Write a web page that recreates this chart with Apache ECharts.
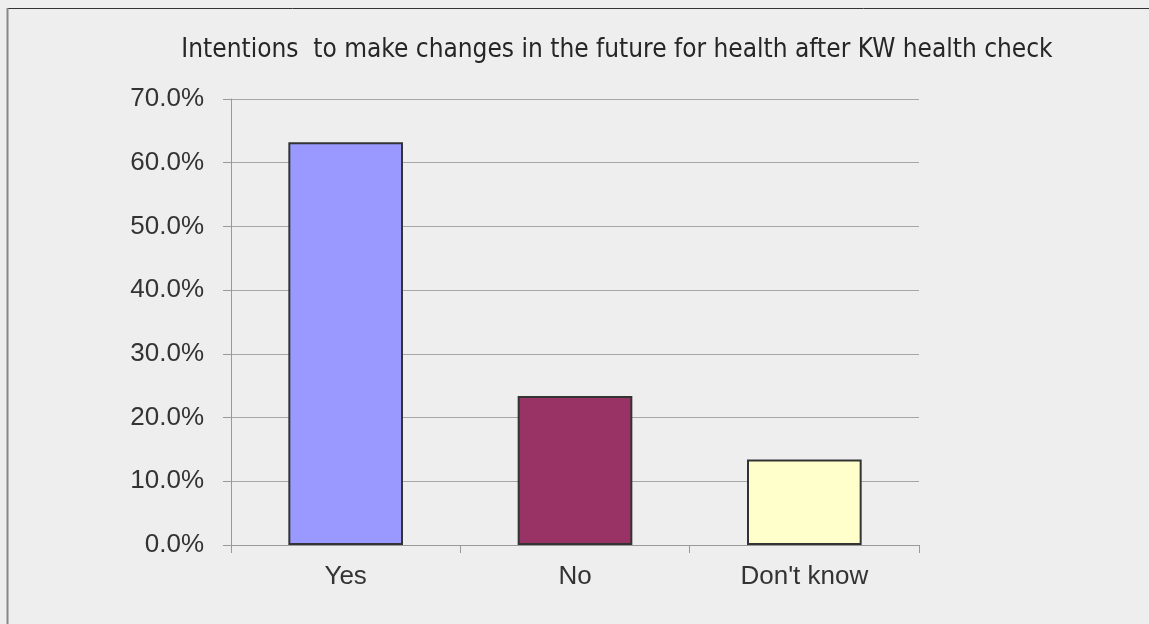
<!DOCTYPE html>
<html>
<head>
<meta charset="utf-8">
<script src="https://cdn.jsdelivr.net/npm/echarts@6/dist/echarts.min.js"></script>
<style>
  html, body { margin: 0; padding: 0; background: #eeeeee; }
  #chart { width: 1149px; height: 624px; }
</style>
</head>
<body>
<div id="chart"></div>
<script>
// Survey answers and their shares (percent)
const categories = ['Yes', 'No', "Don't know"];
const shares = [63.2, 23.4, 13.4];
const barColors = ['#9999ff', '#993366', '#ffffcc'];
const chartTitle = 'Intentions  to make changes in the future for health after KW health check';

const TITLE_FONT = '"DejaVu Sans Condensed", "Liberation Sans Narrow", "Liberation Sans", sans-serif';
const LABEL_FONT = '"Liberation Sans", Arial, sans-serif';

const chart = echarts.init(document.getElementById('chart'));
chart.setOption({
  backgroundColor: '#eeeeee',
  animation: false,
  title: {
    text: chartTitle,
    left: 612,
    textAlign: 'center',
    top: 32,
    textStyle: { fontFamily: TITLE_FONT, fontSize: 26, fontWeight: 'normal', color: '#262626' }
  },
  grid: { left: 231, right: 230, top: 99, bottom: 79, containLabel: false },
  xAxis: {
    type: 'category',
    data: categories,
    axisLine: { lineStyle: { color: '#999999', width: 1 } },
    axisTick: { show: true, length: 8, alignWithLabel: false, lineStyle: { color: '#999999' } },
    axisLabel: { margin: 19, fontFamily: LABEL_FONT, fontSize: 26, color: '#333333' }
  },
  yAxis: {
    type: 'value',
    min: 0,
    max: 70,
    interval: 10,
    axisLine: { show: true, lineStyle: { color: '#999999', width: 1 } },
    axisTick: { show: true, length: 8, lineStyle: { color: '#999999' } },
    splitLine: { lineStyle: { color: '#a6a6a6', width: 1 } },
    axisLabel: {
      margin: 27,
      fontFamily: LABEL_FONT,
      fontSize: 26,
      color: '#333333',
      formatter: v => v.toFixed(1) + '%'
    }
  },
  series: [{
    type: 'bar',
    barWidth: '50%',
    data: shares.map((v, i) => ({
      value: v,
      itemStyle: { color: barColors[i], borderColor: '#333333', borderWidth: 2 }
    }))
  }],
  graphic: [
    // frame: dark top edge, grey left edge
    { type: 'line', shape: { x1: 7, y1: 8.5, x2: 1149, y2: 8.5 }, style: { stroke: '#333333', lineWidth: 1 }, silent: true },
    { type: 'line', shape: { x1: 7.5, y1: 8, x2: 7.5, y2: 624 }, style: { stroke: '#888888', lineWidth: 2 }, silent: true }
  ]
});
</script>
</body>
</html>
